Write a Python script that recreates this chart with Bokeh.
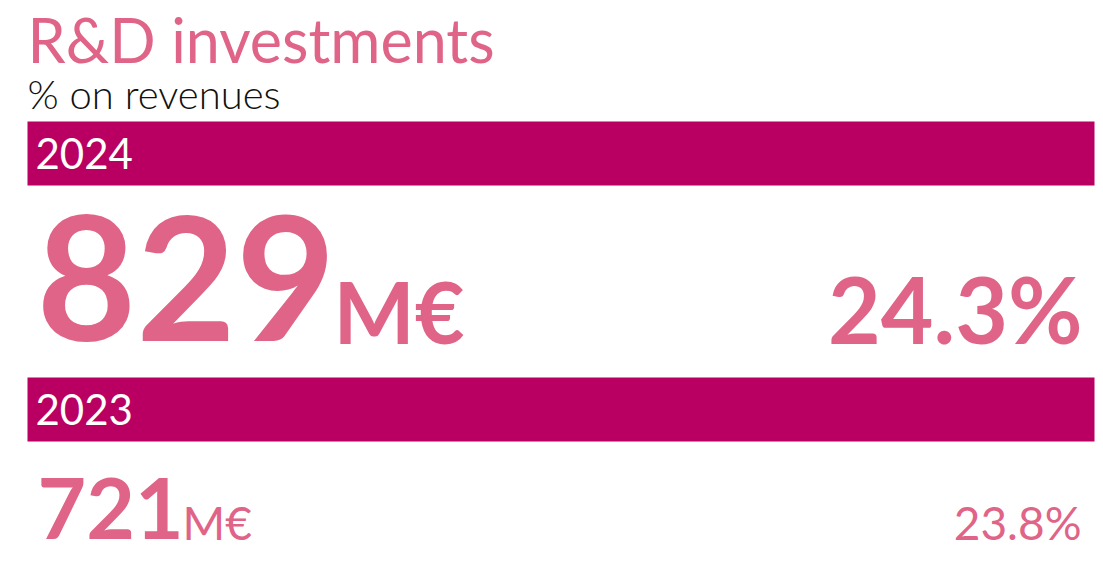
from bokeh.plotting import figure
from bokeh.models import Range1d
from bokeh.core.properties import value
from bokeh.embed import file_html
from bokeh.resources import INLINE

# ---- data ----
title = "R&D investments"
subtitle = "% on revenues"
years = ["2024", "2023"]
rd_meur = [829, 721]
pct_revenues = [24.3, 23.8]
unit = "M€"

PINK = "#E06487"
MAGENTA = "#B90062"

W, H = 1100, 560
p = figure(width=W, height=H, output_backend="svg", toolbar_location=None,
           x_range=Range1d(0, W), y_range=Range1d(H, 0),
           min_border=0)
p.axis.visible = False
p.grid.visible = False
p.outline_line_color = None
p.background_fill_color = "white"
p.border_fill_color = "white"


def mid(baseline, size):
    # vertical centre used with text_baseline="middle"
    return baseline - 0.37 * size


# year bands
p.quad(left=[27, 27], right=[1094, 1094], top=[121, 377], bottom=[185, 441],
       fill_color=MAGENTA, line_color=None)

# title / subtitle
p.text(x=[27], y=[mid(62, 61)], text=[title], text_font=value("Lato"), text_font_size="61px",
       text_color=PINK, text_baseline="middle")
p.text(x=[27], y=[mid(108, 40)], text=[subtitle], text_font=value("Lato Light"),
       text_font_size="40px", text_color="#111111", text_baseline="middle")

# year labels
p.text(x=[35, 35], y=[mid(169, 42), mid(425, 42)], text=years, text_font=value("Lato"),
       text_font_size="42px", text_color="white", text_baseline="middle")

# 2024 values
p.text(x=[36], y=[mid(342, 172)], text=[str(rd_meur[0])], text_font=value("Lato"),
       text_font_style="bold", text_font_size="172px", text_color=PINK,
       text_baseline="middle")
p.text(x=[333], y=[mid(342, 86)], text=[unit], text_font=value("Lato"),
       text_font_style="bold", text_font_size="86px", text_color=PINK,
       text_baseline="middle")
p.text(x=[1082], y=[mid(342, 91)], text=[f"{pct_revenues[0]:.1f}%"], text_font=value("Lato"),
       text_font_style="bold", text_font_size="91px", text_color=PINK,
       text_baseline="middle", text_align="right")

# 2023 values
p.text(x=[37], y=[mid(539, 84)], text=[str(rd_meur[1])], text_font=value("Lato"),
       text_font_style="bold", text_font_size="84px", text_color=PINK,
       text_baseline="middle")
p.text(x=[182], y=[mid(539, 46)], text=[unit], text_font=value("Lato"),
       text_font_size="46px", text_color=PINK, text_baseline="middle")
p.text(x=[1081], y=[mid(539, 46)], text=[f"{pct_revenues[1]:.1f}%"], text_font=value("Lato"),
       text_font_size="46px", text_color=PINK, text_baseline="middle",
       text_align="right")

open("out.html", "w").write(file_html(p, INLINE))
